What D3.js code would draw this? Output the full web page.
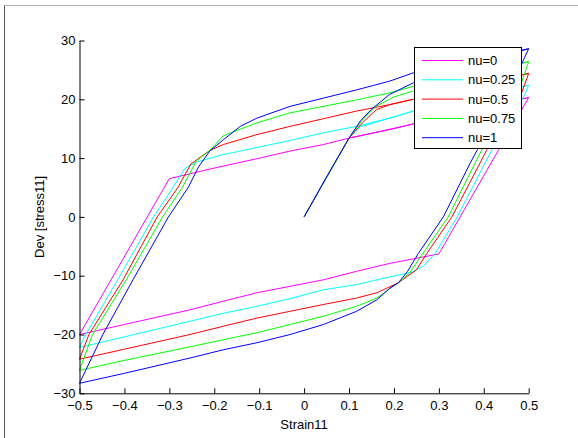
<!DOCTYPE html>
<html>
<head>
<meta charset="utf-8">
<script src="https://cdn.jsdelivr.net/npm/d3@7"></script>
<style>
  body { margin: 0; background: #fff; }
  svg text { font-family: "Liberation Sans", Arial, sans-serif; fill: #000; }
</style>
</head>
<body>
<svg id="chart"></svg>
<script>
// hysteresis loops, Dev[stress11] vs Strain11, one curve per nu

var legendLabels = ["nu=0", "nu=0.25", "nu=0.5", "nu=0.75", "nu=1"];
var xTicks = [-0.5, -0.4, -0.3, -0.2, -0.1, 0, 0.1, 0.2, 0.3, 0.4, 0.5];
var yTicks = [-30, -20, -10, 0, 10, 20, 30];

// [strain, stress] : first loading, unloading, reloading
var nu0 = [
  [0, 0], [0.1, 13.4], [0.2, 15.0], [0.3, 16.9], [0.4, 18.6], [0.5, 20.3],
  [0.3, -6.3], [0.191, -7.9], [0.117, -9.25], [0.043, -10.7], [-0.031, -11.8], [-0.105, -12.9],
  [-0.18, -14.35], [-0.254, -15.8], [-0.4, -18.3], [-0.5, -20.0],
  [-0.3, 6.5], [-0.2, 8.3], [-0.105, 9.9], [-0.031, 11.2], [0.043, 12.3], [0.1, 13.4],
  [0.191, 14.9], [0.243, 15.8], [0.3, 16.9], [0.4, 18.6], [0.5, 20.3]
];
var nu025 = [
  [0, 0], [0.1, 13.4], [0.125, 15.3], [0.191, 16.8], [0.243, 18.0], [0.3, 19.0], [0.4, 20.7], [0.5, 22.4],
  [0.486, 20], [0.418, 11.4], [0.403, 9.2], [0.341, 0], [0.292, -6.2], [0.265, -8.4], [0.24, -9.4],
  [0.191, -10.2], [0.117, -11.5], [0.043, -12.4], [-0.031, -13.9], [-0.105, -15.2], [-0.18, -16.4],
  [-0.254, -17.75], [-0.4, -20.4], [-0.5, -22.2],
  [-0.486, -20], [-0.415, -10.7], [-0.335, 0], [-0.292, 5], [-0.265, 8.3], [-0.24, 9.3], [-0.18, 10.6],
  [-0.105, 11.8], [-0.031, 13.0], [0.043, 14.3], [0.117, 15.4], [0.191, 16.8], [0.243, 18.0],
  [0.3, 19.0], [0.4, 20.7], [0.5, 22.4]
];
var nu05 = [
  [0, 0], [0.1, 13.4], [0.13, 16.0], [0.16, 18.2], [0.191, 19.1], [0.243, 20.0], [0.3, 21.0], [0.4, 22.7], [0.5, 24.4],
  [0.479, 20], [0.407, 11.45], [0.392, 9.2], [0.329, 0], [0.273, -6.25], [0.25, -9.0], [0.21, -11.2],
  [0.162, -12.9], [0.117, -13.8], [0.043, -14.9], [-0.031, -16.05], [-0.105, -17.2], [-0.18, -18.6],
  [-0.254, -20.0], [-0.4, -22.5], [-0.5, -24.2],
  [-0.479, -20], [-0.403, -10.7], [-0.327, 0], [-0.281, 5], [-0.252, 9.0], [-0.21, 11.3], [-0.18, 12.3],
  [-0.105, 14.0], [-0.031, 15.4], [0.043, 16.7], [0.117, 18.0], [0.191, 19.1], [0.243, 20.0],
  [0.3, 21.0], [0.4, 22.7], [0.5, 24.4]
];
var nu075 = [
  [0, 0], [0.1, 13.4], [0.13, 16.5], [0.16, 18.8], [0.2, 20.4], [0.243, 21.4], [0.3, 22.8], [0.4, 24.7], [0.5, 26.4],
  [0.471, 20], [0.396, 11.45], [0.381, 9.2], [0.321, 0], [0.264, -6.25], [0.235, -9.5], [0.21, -11.2],
  [0.191, -12.2], [0.162, -13.8], [0.117, -15.2], [0.043, -16.9], [-0.031, -18.3], [-0.105, -19.7],
  [-0.18, -20.9], [-0.254, -22.1], [-0.4, -24.4], [-0.5, -26.1],
  [-0.471, -20], [-0.396, -10.7], [-0.315, 0], [-0.271, 5], [-0.24, 9.5], [-0.21, 11.3], [-0.18, 13.8],
  [-0.105, 16.0], [-0.031, 17.7], [0.043, 18.8], [0.117, 19.9], [0.191, 21.1], [0.243, 22.2],
  [0.3, 23.3], [0.4, 24.9], [0.5, 26.4]
];
var nu1 = [
  [0, 0], [0.05, 6.8], [0.1, 13.4], [0.125, 16.3], [0.15, 18.3], [0.19, 20.8], [0.243, 22.8], [0.3, 24.3], [0.4, 26.6], [0.5, 28.6],
  [0.448, 20], [0.386, 11.45], [0.37, 9.2], [0.31, 0], [0.254, -6.25], [0.23, -9.3], [0.21, -11.2],
  [0.191, -12.1], [0.162, -14.1], [0.117, -16.05], [0.043, -18.3], [-0.031, -20.0], [-0.105, -21.4],
  [-0.18, -22.6], [-0.254, -24.0], [-0.4, -26.6], [-0.5, -28.3],
  [-0.448, -20], [-0.381, -10.7], [-0.302, 0], [-0.258, 5], [-0.235, 8.5], [-0.21, 11.2], [-0.18, 13.1],
  [-0.142, 15.4], [-0.105, 16.8], [-0.031, 18.8], [0.043, 20.2], [0.117, 21.6], [0.191, 23.1],
  [0.243, 24.5], [0.3, 25.4], [0.4, 27.0], [0.5, 28.6]
];

var series = [nu0, nu025, nu05, nu075, nu1];
var colors = ["#ff00ff", "#00ffff", "#ff0000", "#00ff00", "#0000ff"];

var svgWidth = 578, svgHeight = 438;

var svg = d3.select("#chart")
    .attr("width", svgWidth)
    .attr("height", svgHeight);

svg.append("rect")
    .attr("width", svgWidth).attr("height", svgHeight)
    .attr("fill", "#fff");

// figure frame (top and left edge)
svg.append("line")
    .attr("x1", 4.5).attr("y1", 5.5).attr("x2", svgWidth).attr("y2", 5.5)
    .attr("stroke", "#b4b4b4");
svg.append("line")
    .attr("x1", 4.5).attr("y1", 5.5).attr("x2", 4.5).attr("y2", svgHeight)
    .attr("stroke", "#555");

var xScale = d3.scaleLinear().domain([-0.5, 0.5]).range([79.5, 528.7]);
var yScale = d3.scaleLinear().domain([-30, 30]).range([393.3, 40.5]);

var line = d3.line()
    .x(function (d) { return xScale(d[0]); })
    .y(function (d) { return yScale(d[1]); });

svg.selectAll("path.curve")
    .data(series)
    .enter()
    .append("path")
    .attr("class", "curve")
    .attr("d", line)
    .attr("fill", "none")
    .attr("stroke", function (d, i) { return colors[i]; })
    .attr("stroke-width", 1);

// axes, ticks pointing inwards like matlab
var fmt = function (d) { return d3.format("")(Math.round(d * 10) / 10); };

var ejeX = d3.axisBottom(xScale)
    .tickValues(xTicks)
    .tickFormat(fmt)
    .tickSizeInner(-5)
    .tickSizeOuter(0)
    .tickPadding(7);

var ejeY = d3.axisLeft(yScale)
    .tickValues(yTicks)
    .tickSizeInner(-5)
    .tickSizeOuter(0)
    .tickPadding(4);

var gx = svg.append("g")
    .attr("transform", "translate(0," + yScale(-30) + ")")
    .call(ejeX);
var gy = svg.append("g")
    .attr("transform", "translate(" + xScale(-0.5) + ",0)")
    .call(ejeY);

[gx, gy].forEach(function (g) {
  g.select(".domain").attr("stroke", "#000");
  g.selectAll(".tick line").attr("stroke", "#000");
  g.selectAll(".tick text")
    .attr("fill", "#000")
    .style("font-size", "13px")
    .style("font-family", "'Liberation Sans', Arial, sans-serif");
});

svg.append("text")
    .attr("x", xScale(0))
    .attr("y", 429)
    .attr("text-anchor", "middle")
    .style("font-size", "13px")
    .text("Strain11");

svg.append("text")
    .attr("transform", "translate(44," + yScale(0) + ") rotate(-90)")
    .attr("text-anchor", "middle")
    .style("font-size", "13px")
    .text("Dev [stress11]");

// legend
var legend = svg.append("g");
legend.append("rect")
    .attr("x", 414.5).attr("y", 47.5)
    .attr("width", 107).attr("height", 101)
    .attr("fill", "#fff")
    .attr("stroke", "#000");

var rows = legend.selectAll("g.row")
    .data(legendLabels)
    .enter()
    .append("g")
    .attr("class", "row")
    .attr("transform", function (d, i) { return "translate(0," + (60.5 + i * 19.3) + ")"; });

rows.append("line")
    .attr("x1", 422).attr("x2", 463)
    .attr("stroke", function (d, i) { return colors[i]; });

rows.append("text")
    .attr("x", 468)
    .attr("dy", "0.35em")
    .style("font-size", "13px")
    .text(function (d) { return d; });
</script>
</body>
</html>
